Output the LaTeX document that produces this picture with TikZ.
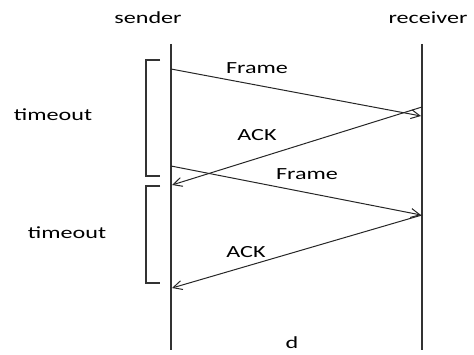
\documentclass[tikz,border=0pt]{standalone}
\usepackage{fontspec}
\setmainfont{Carlito}
\usetikzlibrary{arrows.meta}
\begin{document}
\begin{tikzpicture}[x=1pt,y=-1pt,
  lbl/.style={font=\fontsize{17}{19}\selectfont, text=black, inner sep=0pt, xscale=1.42, transform shape},
  lifeline/.style={draw=black!80, line width=1.4pt},
  msg/.style={draw=black!85, line width=1pt, -{Straight Barb[length=9pt,width=9pt,line width=1pt]}},
  brace/.style={draw=black!80, line width=1.1pt}]
\useasboundingbox (0,0) rectangle (474,355);
% lifeline headings
\node[lbl] (snd) at (148,18) {sender};
\node[lbl] (rcv) at (428,18) {receiver};
% lifelines
\coordinate (s0) at (171,44);
\coordinate (s1) at (171,350);
\coordinate (r0) at (422,44);
\coordinate (r1) at (422,350);
\draw[lifeline] (s0) -- (s1);
\draw[lifeline] (r0) -- (r1);
% message endpoints
\coordinate (f1a) at (171,69);
\coordinate (f1b) at (421,116);
\coordinate (a1a) at (422,107);
\coordinate (a1b) at (172,185);
\coordinate (f2a) at (171,166);
\coordinate (f2b) at (421,215);
\coordinate (a2a) at (422,215);
\coordinate (a2b) at (172,288);
\draw[msg] (f1a) -- (f1b);
\draw[msg] (a1a) -- (a1b);
\draw[msg] (f2a) -- (f2b);
\draw[msg] (a2a) -- (a2b);
% message labels
\node[lbl] (lf1) at (257,68) {Frame};
\node[lbl] (la1) at (257,135) {ACK};
\node[lbl] (lf2) at (307,174) {Frame};
\node[lbl] (la2) at (246,252) {ACK};
% timeout brackets
\coordinate (b1t) at (160,60);
\coordinate (b1b) at (160,176);
\coordinate (b2t) at (160,186);
\coordinate (b2b) at (160,283);
\draw[brace] (b1t) -| (146,176) -- (b1b);
\draw[brace] (b2t) -| (146,283) -- (b2b);
\node[lbl] (t1) at (53,115) {timeout};
\node[lbl] (t2) at (67,233) {timeout};
% bottom mark
\node[lbl] (d) at (292,343) {d};
\end{tikzpicture}
\end{document}
